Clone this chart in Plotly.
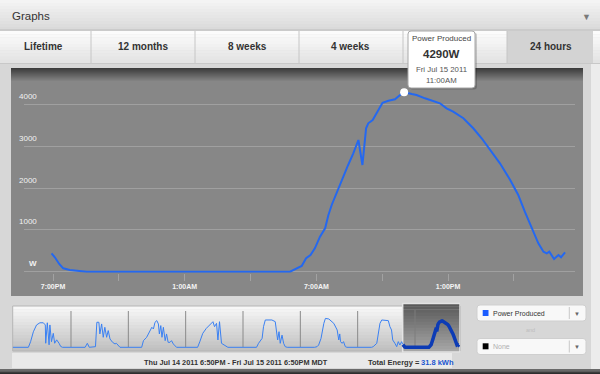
import plotly.graph_objects as go

W, H = 600, 374
FONT = "Liberation Sans, Arial, sans-serif"

# ---------------- data ----------------
main_time = [
    "2011-07-14 18:56", "2011-07-14 19:05", "2011-07-14 19:17", "2011-07-14 19:28",
    "2011-07-14 19:46", "2011-07-14 20:09", "2011-07-14 20:32", "2011-07-15 05:48",
    "2011-07-15 06:06", "2011-07-15 06:20", "2011-07-15 06:32", "2011-07-15 06:44",
    "2011-07-15 06:56", "2011-07-15 07:10", "2011-07-15 07:24", "2011-07-15 07:33",
    "2011-07-15 07:42", "2011-07-15 07:51", "2011-07-15 08:00", "2011-07-15 08:09",
    "2011-07-15 08:18", "2011-07-15 08:27", "2011-07-15 08:41", "2011-07-15 08:55",
    "2011-07-15 09:06", "2011-07-15 09:16", "2011-07-15 09:22", "2011-07-15 09:34",
    "2011-07-15 09:47", "2011-07-15 10:01", "2011-07-15 10:17", "2011-07-15 10:35",
    "2011-07-15 10:49", "2011-07-15 11:00", "2011-07-15 11:21", "2011-07-15 11:34",
    "2011-07-15 11:57", "2011-07-15 12:15", "2011-07-15 12:38", "2011-07-15 12:56",
    "2011-07-15 13:14", "2011-07-15 13:42", "2011-07-15 14:09", "2011-07-15 14:32",
    "2011-07-15 14:59", "2011-07-15 15:22", "2011-07-15 15:50", "2011-07-15 16:12",
    "2011-07-15 16:30", "2011-07-15 16:49", "2011-07-15 17:07", "2011-07-15 17:21",
    "2011-07-15 17:30", "2011-07-15 17:37", "2011-07-15 17:50", "2011-07-15 18:02",
    "2011-07-15 18:09", "2011-07-15 18:20",
]
main_watts = [
    440, 344, 184, 81, 41, 17, 0, 0,
    72, 136, 320, 399, 559, 836, 1037, 1355,
    1594, 1792, 1952, 2191, 2390, 2550, 2829, 3147,
    2550, 3427, 3546, 3625, 3823, 4038, 4086, 4120,
    4222, 4290, 4246, 4222, 4143, 4086, 4024, 3905,
    3823, 3666, 3427, 3188, 2867, 2590, 2191, 1833,
    1434, 1037, 679, 478, 440, 478, 303, 399,
    344, 464,
]

peak_time = "2011-07-15 11:00"
peak_watts = 4290
peak_label = "4290W"
peak_date = "Fri Jul 15 2011"
peak_clock = "11:00AM"
series_name = "Power Produced"

y_ticks = [0, 1000, 2000, 3000, 4000]
y_tick_labels = ["W", "1000", "2000", "3000", "4000"]

x_tick_times = ["2011-07-14 19:00", "2011-07-14 22:00", "2011-07-15 01:00", "2011-07-15 04:00",
                "2011-07-15 07:00", "2011-07-15 10:00", "2011-07-15 13:00", "2011-07-15 16:00"]
x_tick_labels = ["7:00PM", "", "1:00AM", "", "7:00AM", "", "1:00PM", ""]

tab_labels = ["Lifetime", "12 months", "8 weeks", "4 weeks", "24 hours"]

# navigator (week overview) series
nav_time = [
    "2011-07-07 23:36", "2011-07-08 06:10", "2011-07-08 07:05", "2011-07-08 08:15", "2011-07-08 09:35",
    "2011-07-08 11:00", "2011-07-08 12:25", "2011-07-08 13:15", "2011-07-08 13:25", "2011-07-08 14:05",
    "2011-07-08 14:50", "2011-07-08 15:10", "2011-07-08 15:50", "2011-07-08 16:35", "2011-07-08 17:10",
    "2011-07-08 18:00", "2011-07-08 19:00", "2011-07-08 19:40", "2011-07-08 20:25",
    "2011-07-09 05:55", "2011-07-09 06:50", "2011-07-09 07:40", "2011-07-09 10:15", "2011-07-09 10:50",
    "2011-07-09 11:40", "2011-07-09 12:05", "2011-07-09 12:50", "2011-07-09 13:30", "2011-07-09 14:10",
    "2011-07-09 14:55", "2011-07-09 15:35", "2011-07-09 16:20", "2011-07-09 17:25", "2011-07-09 18:25",
    "2011-07-09 19:00", "2011-07-09 20:30",
    "2011-07-10 05:35", "2011-07-10 06:20", "2011-07-10 07:40", "2011-07-10 08:25", "2011-07-10 09:05",
    "2011-07-10 09:50", "2011-07-10 10:30", "2011-07-10 11:10", "2011-07-10 11:55", "2011-07-10 12:35",
    "2011-07-10 13:00", "2011-07-10 13:35", "2011-07-10 14:05", "2011-07-10 14:40", "2011-07-10 15:25",
    "2011-07-10 16:00", "2011-07-10 16:40", "2011-07-10 17:25", "2011-07-10 18:05", "2011-07-10 18:50",
    "2011-07-10 20:10",
    "2011-07-11 05:00", "2011-07-11 05:55", "2011-07-11 07:10", "2011-07-11 08:40", "2011-07-11 10:50",
    "2011-07-11 11:25", "2011-07-11 12:05", "2011-07-11 12:55", "2011-07-11 13:30", "2011-07-11 14:10",
    "2011-07-11 15:00", "2011-07-11 16:20", "2011-07-11 17:40",
    "2011-07-12 05:40", "2011-07-12 06:30", "2011-07-12 08:00", "2011-07-12 08:35", "2011-07-12 09:20",
    "2011-07-12 10:40", "2011-07-12 12:05", "2011-07-12 13:30", "2011-07-12 13:55", "2011-07-12 14:30",
    "2011-07-12 15:05", "2011-07-12 15:35", "2011-07-12 16:20", "2011-07-12 17:00", "2011-07-12 17:40",
    "2011-07-12 18:30",
    "2011-07-13 06:00", "2011-07-13 07:00", "2011-07-13 07:40", "2011-07-13 08:40", "2011-07-13 09:50",
    "2011-07-13 10:30", "2011-07-13 11:55", "2011-07-13 13:20", "2011-07-13 14:00", "2011-07-13 15:25",
    "2011-07-13 16:05", "2011-07-13 16:30", "2011-07-13 16:50", "2011-07-13 17:30", "2011-07-13 18:05",
    "2011-07-13 18:50", "2011-07-13 19:30",
    "2011-07-14 05:50", "2011-07-14 06:30", "2011-07-14 08:00", "2011-07-14 08:35", "2011-07-14 09:20",
    "2011-07-14 10:05", "2011-07-14 11:25", "2011-07-14 12:50", "2011-07-14 13:30", "2011-07-14 14:10",
    "2011-07-14 14:40", "2011-07-14 15:10", "2011-07-14 15:35", "2011-07-14 16:20", "2011-07-14 17:00",
    "2011-07-14 17:40", "2011-07-14 18:25", "2011-07-14 18:50",
]
nav_watts = [
    0, 0, 900, 2500, 3600, 3950, 3950, 3600, 650, 3950, 400, 3600, 900, 2250, 650, 1200, 650, 150, 0,
    0, 640, 0, 100, 4030, 4030, 2150, 3760, 1610, 3220, 1610, 2690, 1340, 800, 540, 640, 0,
    0, 1070, 1610, 2150, 2690, 3220, 2950, 4030, 4300, 3760, 2150, 3490, 1610, 3220, 1070, 2150,
    800, 800, 1070, 540, 0,
    0, 900, 2250, 3060, 3860, 4120, 3320, 3860, 1180, 4120, 640, 370, 0,
    0, 640, 1440, 3320, 4400, 4450, 4400, 4130, 2790, 1180, 2510, 640, 1960, 640, 100, 0,
    0, 100, 370, 1440, 3860, 4650, 4560, 4130, 3860, 2790, 1180, 2150, 910, 640, 910, 100, 0,
    0, 100, 640, 2150, 3860, 4400, 4400, 4290, 3320, 2790, 1180, 750, 640, 100, 910, 370, 910, 480,
]
nav_midnights = ["2011-07-09", "2011-07-10", "2011-07-11", "2011-07-12", "2011-07-13", "2011-07-14"]
selected_midnight = "2011-07-15"
selected_start = "2011-07-14 18:50"
selected_end = "2011-07-15 18:50"

range_text = "Thu Jul 14 2011 6:50PM - Fri Jul 15 2011 6:50PM MDT"
energy_label = "Total Energy = "
energy_value = "31.8 kWh"
compare_name = "None"

# ---------------- helpers (layout only) ----------------
def px(x):
    return x / W

def py(y):
    return 1 - y / H

def hexrgb(c):
    c = c.lstrip("#")
    return tuple(int(c[i:i + 2], 16) for i in (0, 2, 4))

def mix(c0, c1, t):
    a, b = hexrgb(c0), hexrgb(c1)
    return "rgb(%d,%d,%d)" % tuple(round(a[i] + (b[i] - a[i]) * t) for i in range(3))

shapes = []

def rect(x0, y0, x1, y1, fill, line=None, lw=0, layer="below"):
    shapes.append(dict(type="rect", xref="paper", yref="paper", x0=px(x0), x1=px(x1),
                       y0=py(y1), y1=py(y0), fillcolor=fill,
                       line=dict(width=lw, color=line or fill), layer=layer))

def grad(x0, y0, x1, y1, c0, c1, n, xref="paper", xa=None, xb=None):
    for i in range(n):
        ya = y0 + (y1 - y0) * i / n
        yb = y0 + (y1 - y0) * (i + 1) / n + 0.3
        col = mix(c0, c1, i / max(n - 1, 1))
        if xref == "paper":
            shapes.append(dict(type="rect", xref="paper", yref="paper", x0=px(x0), x1=px(x1),
                               y0=py(yb), y1=py(ya), fillcolor=col, line=dict(width=0), layer="below"))
        else:
            shapes.append(dict(type="rect", xref=xref, yref="paper", x0=xa, x1=xb,
                               y0=py(yb), y1=py(ya), fillcolor=col, line=dict(width=0), layer="below"))

def rrect(x0, y0, x1, y1, r, fill, line, lw=1, layer="below"):
    def P(x, y):
        return "%.5f,%.5f" % (px(x), py(y))
    path = ("M " + P(x0 + r, y0) + " L " + P(x1 - r, y0) + " Q " + P(x1, y0) + " " + P(x1, y0 + r) +
            " L " + P(x1, y1 - r) + " Q " + P(x1, y1) + " " + P(x1 - r, y1) +
            " L " + P(x0 + r, y1) + " Q " + P(x0, y1) + " " + P(x0, y1 - r) +
            " L " + P(x0, y0 + r) + " Q " + P(x0, y0) + " " + P(x0 + r, y0) + " Z")
    shapes.append(dict(type="path", xref="paper", yref="paper", path=path, fillcolor=fill,
                       line=dict(width=lw, color=line), layer=layer))

def vline(x, y0, y1, color, lw=1, xref="paper"):
    shapes.append(dict(type="line", xref=xref, yref="paper",
                       x0=px(x) if xref == "paper" else x, x1=px(x) if xref == "paper" else x,
                       y0=py(y1), y1=py(y0), line=dict(color=color, width=lw), layer="below"))

def hline(x0, x1, y, color, lw=1):
    shapes.append(dict(type="line", xref="paper", yref="paper", x0=px(x0), x1=px(x1),
                       y0=py(y), y1=py(y), line=dict(color=color, width=lw), layer="below"))

# header bar
grad(0, 0, 600, 30, "#f4f4f4", "#dadada", 10)
hline(0, 600, 30, "#bdbdbd")
# tab row
grad(0, 31, 600, 63, "#fcfcfc", "#e3e3e3", 10)
rect(507, 31, 593, 63, "#d3d3d3")
for xs in [91, 195, 299, 403, 507]:
    vline(xs, 31, 63, "#c6c6c6")
hline(0, 600, 63.5, "#c8c8c8")
# right light strip
rect(591, 64, 600, 369, "#ececec")
# main dark panel
rect(11, 68, 583, 296, "#878787")
grad(11, 68, 583, 82, "#3c3c3c", "#878787", 14)
# navigator box
grad(12.7, 306, 460, 351, "#f7f7f7", "#c0c0c0", 14)
shapes.append(dict(type="rect", xref="paper", yref="paper", x0=px(12.7), x1=px(460), y0=py(351), y1=py(306),
                   line=dict(color="#b5b5b5", width=1), fillcolor="rgba(0,0,0,0)", layer="below"))
for m in nav_midnights:
    vline(m, 311, 347, "#8a8a8a", xref="x2")
# selected window
grad(0, 303.5, 0, 352, "#5a5a5a", "#a6a6a6", 16, xref="x2", xa=selected_start, xb=selected_end)
shapes.append(dict(type="rect", xref="x2", yref="paper", x0=selected_start, x1=selected_end,
                   y0=py(352), y1=py(303.5), line=dict(color="#e4e4e4", width=1.5),
                   fillcolor="rgba(0,0,0,0)", layer="below"))
vline(selected_midnight, 310, 347, "#7c7c7c", xref="x2")
# date strip
rect(12, 353, 452, 368, "#e9e9e9")
# dropdowns
rrect(477, 305, 586, 321, 3, "#f8f8f8", "#cfcfcf")
rrect(477, 338.5, 586, 354.5, 3, "#f8f8f8", "#cfcfcf")
rect(482.7, 310, 488.5, 316, "#1a5cff")
rect(482.7, 343.3, 488.5, 349.3, "#000000")
vline(569.3, 307, 319, "#c8c8c8")
vline(569.3, 340.5, 352.5, "#c8c8c8")
# bottom dark edge
grad(0, 369, 600, 374, "#6a6a6a", "#2e2e2e", 4)
# tooltip (above data)
rrect(409.5, 32.5, 477, 89.5, 3, "rgba(0,0,0,0.18)", "rgba(0,0,0,0)", lw=0, layer="above")
rrect(408, 31, 475, 88, 3, "#ffffff", "#a8a8a8", lw=1, layer="above")

# ---------------- traces ----------------
fig = go.Figure()
fig.add_trace(go.Scatter(x=main_time, y=main_watts, mode="lines", name=series_name,
                         line=dict(color="#2468f0", width=2), xaxis="x", yaxis="y", hoverinfo="skip"))
fig.add_trace(go.Scatter(x=[peak_time], y=[peak_watts], mode="markers",
                         marker=dict(color="white", size=8, line=dict(width=0)),
                         xaxis="x", yaxis="y", hoverinfo="skip"))
fig.add_trace(go.Scatter(x=nav_time, y=nav_watts, mode="lines",
                         line=dict(color="#3a80f2", width=1), xaxis="x2", yaxis="y2", hoverinfo="skip"))
fig.add_trace(go.Scatter(x=main_time, y=main_watts, mode="lines",
                         line=dict(color="#0c3bb5", width=3.5), xaxis="x2", yaxis="y2", hoverinfo="skip"))

# ---------------- annotations ----------------
ann = []

def text(x, y, s, size, color, anchor="center", bold=False, **kw):
    ann.append(dict(x=px(x), y=py(y), xref="paper", yref="paper", text=s, showarrow=False,
                    xanchor=anchor, yanchor="middle",
                    font=dict(family=FONT, size=size, color=color, weight="bold" if bold else "normal"), **kw))

text(10, 16, "Graphs", 11.5, "#333333", anchor="left")
text(586, 17, "▼", 9, "#7a7a7a")
for lab, cx in zip(tab_labels, [43, 143, 247, 350, 551]):
    text(cx, 46.5, lab, 10, "#333333", bold=True)

for v, lab in zip(y_ticks, y_tick_labels):
    ann.append(dict(x=px(39), y=v, xref="paper", yref="y", text=lab, showarrow=False,
                    xanchor="right", yanchor="middle", yshift=8,
                    font=dict(family=FONT, size=8, color="#f2f2f2", weight="bold" if lab == "W" else "normal")))

# tooltip texts
text(441.5, 39, series_name, 8, "#444444")
text(441.5, 54, peak_label, 11.5, "#333333", bold=True)
text(441.5, 69.5, peak_date, 7.8, "#555555")
text(441.5, 80.5, peak_clock, 7.8, "#555555")

# bottom texts
text(236, 362, range_text, 7.3, "#333333", bold=True)
text(366, 362, energy_label, 7.5, "#333333", anchor="left", bold=True)
text(419, 362, energy_value, 7.5, "#1a55d0", anchor="left", bold=True)

# dropdown texts
text(490.5, 313.2, series_name, 7, "#333333", anchor="left")
text(490.5, 346.5, compare_name, 7, "#b0b0b0", anchor="left")
text(530.7, 330, "and", 5.5, "#bdbdbd")
text(577, 313.5, "▼", 6, "#666666")
text(577, 347, "▼", 6, "#666666")

# ---------------- layout ----------------
y_top_val = (271.7 - 80) / 41.85 * 1000
fig.update_layout(
    width=W, height=H, margin=dict(l=0, r=0, t=0, b=0),
    paper_bgcolor="#d7d7d7", plot_bgcolor="rgba(0,0,0,0)",
    showlegend=False, hovermode=False,
    font=dict(family=FONT),
    shapes=shapes, annotations=ann,
    xaxis=dict(domain=[px(24), px(575)], type="date", anchor="y",
               range=["2011-07-14 17:40:42", "2011-07-15 18:47:12"],
               tickmode="array", tickvals=x_tick_times, ticktext=x_tick_labels,
               ticks="outside", ticklen=7, tickcolor="#a2a2a2", tickwidth=1,
               showgrid=False, zeroline=False, showline=False,
               tickfont=dict(family=FONT, size=7, color="#f4f4f4", weight="bold")),
    yaxis=dict(domain=[py(272.7), py(80)], anchor="x", range=[-24, y_top_val],
               tickmode="array", tickvals=y_ticks, showticklabels=False, ticks="",
               showgrid=True, gridcolor="#a0a0a0", gridwidth=1, zeroline=False, showline=False),
    xaxis2=dict(domain=[px(12.7), px(460)], type="date", anchor="y2",
                range=["2011-07-07 23:36", "2011-07-15 18:50"], visible=False),
    yaxis2=dict(domain=[py(351), py(306)], anchor="x2", range=[-596, 6650], visible=False),
)

fig.write_html("out.html", config={"displayModeBar": False, "staticPlot": True},
               post_script="document.body.style.margin='0px';document.body.style.overflow='hidden';")
